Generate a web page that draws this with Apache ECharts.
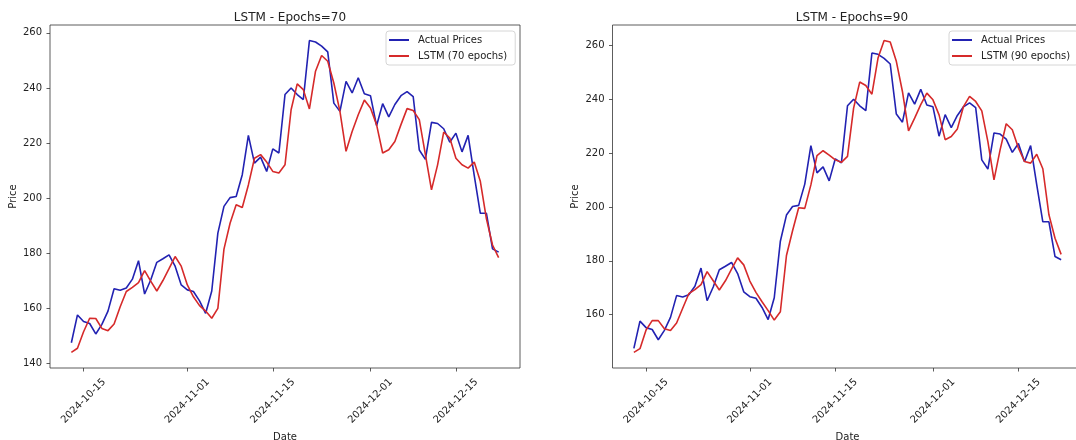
<!DOCTYPE html>
<html>
<head>
<meta charset="utf-8">
<title>LSTM price forecasts</title>
<script src="https://cdn.jsdelivr.net/npm/echarts@6/dist/echarts.min.js"></script>
<style>
  html, body { margin: 0; padding: 0; background: #ffffff; }
  #chart { width: 1076px; height: 440px; }
</style>
</head>
<body>
<div id="chart"></div>
<script>
// Daily closes, 2024-10-13 .. 2024-12-22
const startDate = '2024-10-13';

const actualPrices = [
  147.5, 157.6, 155.2, 154.5, 150.7, 154.2, 159.0, 167.1, 166.6, 167.4,
  170.6, 177.3, 165.2, 170.3, 176.7, 178.0, 179.4, 175.3, 168.5, 166.7,
  166.1, 162.7, 158.2, 166.3, 187.3, 197.0, 200.2, 200.6, 208.5, 222.8,
  212.7, 214.9, 209.7, 217.9, 216.4, 237.6, 240.0, 237.6, 235.8, 257.2,
  256.7, 255.2, 253.1, 234.5, 231.5, 242.4, 238.2, 243.7, 237.9, 237.2,
  226.3, 234.3, 229.5, 234.0, 237.2, 238.7, 236.9, 217.5, 214.1, 227.5,
  227.1, 225.2, 220.3, 223.6, 216.8, 222.8, 208.3, 194.5, 194.5, 181.6,
  180.4
];

const lstm70 = [
  144.0, 145.5, 151.5, 156.4, 156.3, 152.7, 151.9, 154.3, 160.6, 166.1,
  167.6, 169.3, 173.7, 169.9, 166.3, 170.1, 174.4, 178.8, 175.3, 168.5,
  164.2, 161.0, 159.0, 156.4, 160.0, 181.5, 190.9, 197.6, 196.6, 204.8,
  214.5, 215.8, 213.1, 209.7, 209.1, 212.1, 232.1, 241.5, 239.4, 232.4,
  246.1, 251.8, 249.7, 241.8, 231.5, 217.0, 224.2, 230.3, 235.6, 232.7,
  226.7, 216.4, 217.6, 220.6, 226.7, 232.5, 231.8, 228.5, 215.8, 203.0,
  212.1, 224.0, 221.8, 214.5, 212.1, 210.9, 213.1, 206.1, 192.5, 183.0,
  178.4
];

const lstm90 = [
  146.0, 147.4, 154.3, 157.8, 157.8, 154.8, 154.1, 156.9, 162.4, 167.8,
  169.3, 171.2, 176.0, 172.6, 169.2, 172.6, 176.9, 181.1, 178.5, 172.5,
  168.3, 164.8, 161.5, 158.0, 161.1, 182.0, 191.2, 199.7, 199.5, 208.2,
  219.1, 220.9, 219.3, 217.5, 216.6, 218.8, 236.7, 246.4, 245.1, 241.9,
  255.3, 261.8, 261.3, 254.1, 242.9, 228.3, 233.0, 238.0, 242.3, 239.8,
  234.2, 225.0, 226.2, 229.0, 237.3, 241.1, 239.2, 235.7, 224.3, 210.1,
  221.2, 230.9, 228.7, 221.9, 216.9, 216.3, 219.6, 214.2, 197.1, 188.4,
  182.4
];

const dateTicks = ['2024-10-15', '2024-11-01', '2024-11-15', '2024-12-01', '2024-12-15'];
const priceTicks70 = [140, 160, 180, 200, 220, 240, 260];
const priceTicks90 = [160, 180, 200, 220, 240, 260];

const DAY = 86400000;
function parseDay(s) {
  const [y, m, d] = s.split('-').map(Number);
  return Date.UTC(y, m - 1, d);
}
function fmtDay(v) {
  const d = new Date(v);
  const p = n => String(n).padStart(2, '0');
  return d.getUTCFullYear() + '-' + p(d.getUTCMonth() + 1) + '-' + p(d.getUTCDate());
}

const t0 = parseDay(startDate);
const times = actualPrices.map((_, i) => t0 + i * DAY);
const tickTimes = dateTicks.map(parseDay);

// 5% autoscale margins on both axes
const xSpan = times[times.length - 1] - times[0];
const xMin = times[0] - 0.05 * xSpan;
const xMax = times[times.length - 1] + 0.05 * xSpan;
function yRange(a, b) {
  const lo = Math.min(...a, ...b), hi = Math.max(...a, ...b);
  const pad = 0.05 * (hi - lo);
  return [lo - pad, hi + pad];
}
const yr70 = yRange(actualPrices, lstm70);
const yr90 = yRange(actualPrices, lstm90);

const pair = arr => arr.map((v, i) => [times[i], v]);

const FONT = 'DejaVu Sans';
const TXT = '#222222';
const BLUE = '#2222b2';
const RED = '#d62a2a';

function xAxisFor(idx) {
  return {
    type: 'value', gridIndex: idx, min: xMin, max: xMax,
    name: 'Date', nameLocation: 'middle', nameGap: 61,
    nameTextStyle: { fontFamily: FONT, fontSize: 10, color: TXT },
    axisLine: { show: false },
    splitLine: { show: false },
    axisTick: { show: true, length: 3.5, customValues: tickTimes,
                lineStyle: { color: '#333', width: 0.8 } },
    axisLabel: {
      customValues: tickTimes, rotate: 45, align: 'center', verticalAlign: 'middle',
      margin: 33, fontFamily: FONT, fontSize: 10, color: TXT,
      formatter: v => fmtDay(v)
    }
  };
}
function yAxisFor(idx, range, ticks) {
  return {
    type: 'value', gridIndex: idx, min: range[0], max: range[1],
    name: 'Price', nameLocation: 'middle', nameGap: 32,
    nameTextStyle: { fontFamily: FONT, fontSize: 10, color: TXT },
    axisLine: { show: false },
    splitLine: { show: false },
    axisTick: { show: true, length: 3.5, customValues: ticks,
                lineStyle: { color: '#333', width: 0.8 } },
    axisLabel: { customValues: ticks, margin: 8, fontFamily: FONT, fontSize: 10, color: TXT }
  };
}
function legendFor(left, names) {
  return {
    data: names, orient: 'vertical', left: left, top: 31,
    icon: 'rect', itemWidth: 20, itemHeight: 2, itemGap: 4,
    padding: [3, 8, 3, 3],
    backgroundColor: 'rgba(255,255,255,0.8)',
    borderColor: '#cccccc', borderWidth: 0.8, borderRadius: 3,
    textStyle: { fontFamily: FONT, fontSize: 10, color: TXT, lineHeight: 12, padding: [0, 0, 0, 4] }
  };
}
function lineSeries(name, data, color, x, y) {
  return {
    type: 'line', name: name, data: pair(data), xAxisIndex: x, yAxisIndex: y,
    showSymbol: false, symbol: 'none', animation: false,
    lineStyle: { color: color, width: 1.6 }, itemStyle: { color: color }
  };
}

const chart = echarts.init(document.getElementById('chart'), null, { renderer: 'canvas' });
chart.setOption({
  backgroundColor: '#ffffff',
  animation: false,
  title: [
    { text: 'LSTM - Epochs=70', left: 285, top: 7, textAlign: 'center',
      textStyle: { fontFamily: FONT, fontSize: 12, fontWeight: 'normal', color: TXT } },
    { text: 'LSTM - Epochs=90', left: 847, top: 7, textAlign: 'center',
      textStyle: { fontFamily: FONT, fontSize: 12, fontWeight: 'normal', color: TXT } }
  ],
  grid: [
    { left: 50, top: 25, width: 470, height: 343, show: true, outerBoundsMode: 'none',
      containLabel: false, borderColor: '#333', borderWidth: 0.8, backgroundColor: '#fff' },
    { left: 612.5, top: 25, width: 470, height: 343, show: true, outerBoundsMode: 'none',
      containLabel: false, borderColor: '#333', borderWidth: 0.8, backgroundColor: '#fff' }
  ],
  xAxis: [xAxisFor(0), xAxisFor(1)],
  yAxis: [yAxisFor(0, yr70, priceTicks70), yAxisFor(1, yr90, priceTicks90)],
  legend: [
    legendFor(386, ['Actual Prices', 'LSTM (70 epochs)']),
    legendFor(949, ['Actual Prices', 'LSTM (90 epochs)'])
  ],
  series: [
    lineSeries('Actual Prices', actualPrices, BLUE, 0, 0),
    lineSeries('LSTM (70 epochs)', lstm70, RED, 0, 0),
    lineSeries('Actual Prices', actualPrices, BLUE, 1, 1),
    lineSeries('LSTM (90 epochs)', lstm90, RED, 1, 1)
  ]
});
</script>
</body>
</html>
